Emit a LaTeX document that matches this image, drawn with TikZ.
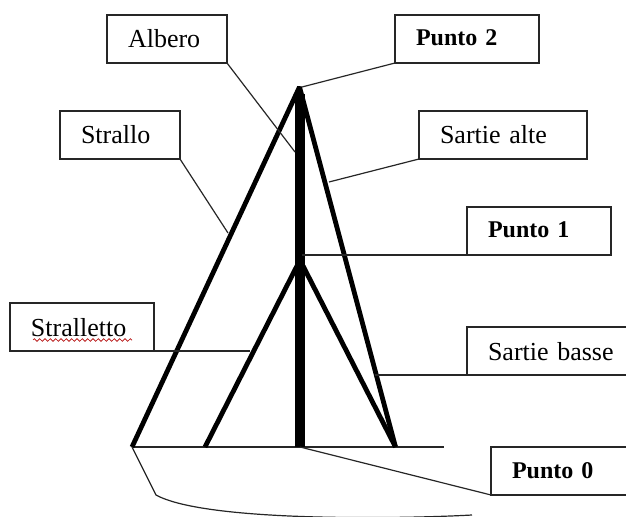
\documentclass[tikz,border=0pt]{standalone}
\usepackage{fontspec}
\setmainfont{Liberation Serif}
\usetikzlibrary{decorations.pathmorphing}
\begin{document}
\begin{tikzpicture}[
    x=0.75pt, y=-0.75pt,
    tagbox/.style={draw=black!85, line width=0.9pt, outer sep=0pt, inner xsep=15.75pt, inner ysep=0pt, anchor=north west, align=left, text height=24.75pt, text depth=11.25pt, font=\fontsize{19.5}{21}\selectfont, fill=white},
    boldtag/.style={tagbox, text height=23.25pt, text depth=12.75pt, font=\fontsize{18}{21}\selectfont\bfseries},
    leader/.style={draw=black!85, line width=0.9pt},
    stay/.style={line width=3.6pt, line join=bevel},
    mast/.style={line width=8pt}
]
\useasboundingbox (0,0) rectangle (626,517);

% rigging
\coordinate (top) at (299.5,87);
\coordinate (masttop) at (300,94);
\coordinate (mid) at (300,260);
\coordinate (foot) at (300,447);
\coordinate (bow) at (132,447);
\coordinate (tack) at (205,447);
\coordinate (stern) at (395.5,447);
\coordinate (deck) at (444,447);

\draw[leader] (bow) -- (deck);
\draw[stay] (bow) -- (top) -- (stern);
\draw[stay] (tack) -- (mid) -- (stern);
\draw[mast] (masttop) -- (foot);

% boxes
\node[tagbox, text width=58.5pt] (albero) at (107,15) {Albero};
\node[boldtag, text width=76.5pt] (punto2) at (395,15) {Punto 2};
\node[tagbox, text width=58.5pt] (strallo) at (60,111) {Strallo};
\node[tagbox, text width=94.5pt] (sartiealte) at (419,111) {Sartie alte};
\node[boldtag, text width=76.5pt] (punto1) at (467,207) {Punto 1};
\node[tagbox, text width=76.5pt] (stralletto) at (10,303) {Stralletto};
\node[tagbox, text width=95pt] (sartiebasse) at (467,327) {Sartie basse};
\node[boldtag, text width=76.5pt] (punto0) at (491,447) {Punto 0};

% leaders
\coordinate (alberoend) at (295,152);
\coordinate (punto2end) at (302,87);
\coordinate (stralloend) at (228,233);
\coordinate (sartiealteend) at (329,182);
\coordinate (punto1end) at (302,255);
\coordinate (strallettoend) at (250,351);
\coordinate (sartiebasseend) at (375,375);
\coordinate (punto0end) at (300,447);

\draw[leader] (albero.south east) -- (alberoend);
\draw[leader] (punto2.south west) -- (punto2end);
\draw[leader] (strallo.south east) -- (stralloend);
\draw[leader] (sartiealte.south west) -- (sartiealteend);
\draw[leader] (punto1.south west) -- (punto1end);
\draw[leader] (stralletto.south east) -- (strallettoend);
\draw[leader] (sartiebasse.south west) -- (sartiebasseend);
\draw[leader] (punto0.south west) -- (punto0end);

% hull, its lowest part falls off the picture
\coordinate (chine) at (156,495);
\coordinate (stem) at (472,515);
\begin{scope}
\clip (0,0) rectangle (626,517);
\draw[leader] (bow) -- (chine) .. controls (205,522) and (400,519) .. (stem);
\end{scope}

% spelling mark
\coordinate (markstart) at (33,340);
\coordinate (markend) at (132,340);
\draw[red!70!black, line width=0.5pt, decorate, decoration={zigzag, segment length=4pt, amplitude=1pt}] (markstart) -- (markend);
\end{tikzpicture}
\end{document}
